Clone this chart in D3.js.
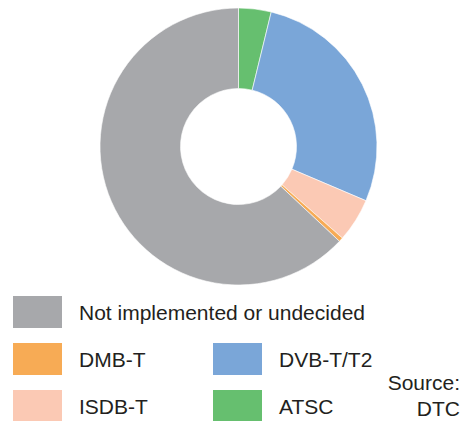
<!DOCTYPE html>
<html>
<head>
<meta charset="utf-8">
<script src="https://cdn.jsdelivr.net/npm/d3@7"></script>
<style>
  body { margin: 0; background: #fff; }
  text { font-family: "Liberation Sans", Arial, sans-serif; fill: #231f20; }
</style>
</head>
<body>
<div id="chart"></div>
<script>
// shares in percent, clockwise from 12 o'clock
const categories = ["ATSC", "DVB-T/T2", "ISDB-T", "DMB-T", "Not implemented or undecided"];
const shares = [3.8, 27.6, 5.1, 0.5, 63.0];
const colors = ["#66bf6f", "#7aa6d8", "#fbc9b4", "#f7ab55", "#a7a8ab"];

// legend layout: [category index, column, row]
const legendItems = [[4, 0, 0], [3, 0, 1], [1, 1, 1], [2, 0, 2], [0, 1, 2]];

const width = 475, height = 421;
const cx = 238.5, cy = 146.5;
const outerR = 138.5, innerR = 58;

const svg = d3.select("#chart").append("svg")
    .attr("width", width)
    .attr("height", height);

const data = categories.map((c, i) => ({name: c, value: shares[i], color: colors[i]}));

const pie = d3.pie().sort(null).value(d => d.value);
const arc = d3.arc().innerRadius(innerR).outerRadius(outerR);

svg.append("g")
    .attr("transform", `translate(${cx},${cy})`)
    .selectAll("path")
    .data(pie(data))
    .enter().append("path")
    .attr("d", arc)
    .attr("fill", d => d.data.color)
    .attr("stroke", "#fff")
    .attr("stroke-width", 0.6);

// legend
const colX = [13, 213];
const rowY = [296, 343, 390];
const legend = svg.append("g");

legendItems.forEach(([idx, col, row]) => {
    legend.append("rect")
        .attr("x", colX[col])
        .attr("y", rowY[row])
        .attr("width", 49)
        .attr("height", 32)
        .attr("fill", colors[idx]);
    legend.append("text")
        .attr("x", colX[col] + 66)
        .attr("y", rowY[row] + 24)
        .style("font-size", "21px")
        .text(categories[idx]);
});

svg.append("text")
    .attr("x", 460).attr("y", 390)
    .attr("text-anchor", "end")
    .style("font-size", "21px")
    .text("Source:");
svg.append("text")
    .attr("x", 460).attr("y", 415.5)
    .attr("text-anchor", "end")
    .style("font-size", "21px")
    .text("DTC");
</script>
</body>
</html>
